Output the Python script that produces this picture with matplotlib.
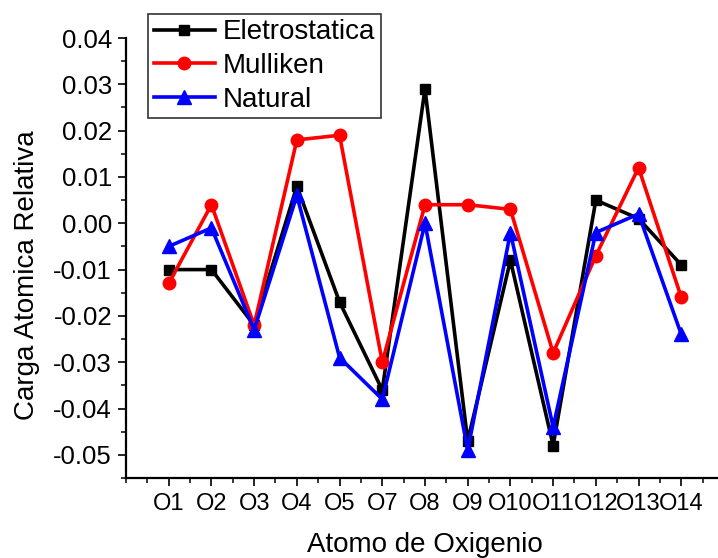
import matplotlib.pyplot as plt
from matplotlib.ticker import MultipleLocator, FuncFormatter

plt.rcParams['font.family'] = ['Liberation Sans', 'DejaVu Sans']

atomos = ['O1', 'O2', 'O3', 'O4', 'O5', 'O7', 'O8', 'O9', 'O10', 'O11', 'O12', 'O13', 'O14']
eletrostatica = [-0.010, -0.010, -0.022, 0.008, -0.017, -0.036, 0.029, -0.047, -0.008, -0.048, 0.005, 0.001, -0.009]
mulliken = [-0.013, 0.004, -0.022, 0.018, 0.019, -0.030, 0.004, 0.004, 0.003, -0.028, -0.007, 0.012, -0.016]
natural = [-0.005, -0.001, -0.023, 0.006, -0.029, -0.038, 0.000, -0.049, -0.002, -0.044, -0.002, 0.002, -0.024]

x = list(range(1, len(atomos) + 1))

fig = plt.figure(figsize=(7.18, 5.58), dpi=100)
ax = fig.add_axes([126 / 718, 1 - 478 / 558, 598 / 718, 440 / 558])

ax.plot(x, eletrostatica, color='black', marker='s', ms=7, lw=2.6, label='Eletrostatica')
ax.plot(x, mulliken, color='red', marker='o', ms=9, lw=2.6, label='Mulliken')
ax.plot(x, natural, color='blue', marker='^', ms=10, lw=2.6, label='Natural')

ax.set_xlim(0, 14)
ax.set_ylim(-0.055, 0.04)
ax.set_xticks(x)
ax.set_xticklabels(atomos)
ax.xaxis.set_minor_locator(MultipleLocator(0.5))
ax.yaxis.set_major_locator(MultipleLocator(0.01))
ax.yaxis.set_minor_locator(MultipleLocator(0.005))
ax.yaxis.set_major_formatter(FuncFormatter(lambda v, p: f'{round(v, 3) + 0.0:.2f}'))

ax.spines['top'].set_visible(False)
ax.spines['right'].set_visible(False)
ax.spines['left'].set_linewidth(1.6)
ax.spines['bottom'].set_linewidth(1.6)
ax.tick_params(which='major', direction='out', length=6, width=1.2, labelsize=18.5, pad=4)
ax.tick_params(which='minor', direction='out', length=3.5, width=1.1)
ax.tick_params(axis='x', labelsize=17, pad=5)

ax.set_xlabel('Atomo de Oxigenio', fontsize=20, labelpad=12)
ax.set_ylabel('Carga Atomica Relativa', fontsize=20)
ax.yaxis.set_label_coords(-0.143, 0.46)

leg = ax.legend(loc='upper left', bbox_to_anchor=(0.037, 1.055), fontsize=20, frameon=True,
                fancybox=False, edgecolor='black', handlelength=2.2, borderpad=0.2,
                labelspacing=0.28, handletextpad=0.3, borderaxespad=0)
leg.get_frame().set_linewidth(1.2)

fig.savefig('out.png', dpi=100)
